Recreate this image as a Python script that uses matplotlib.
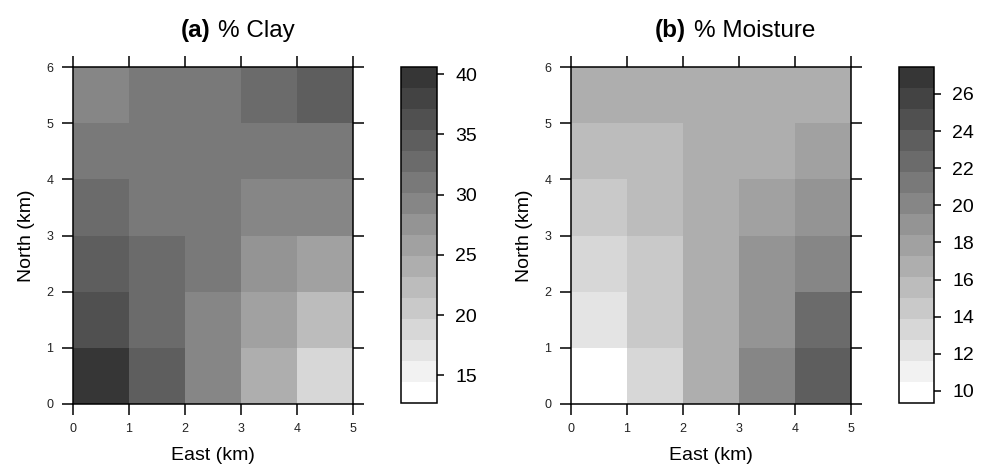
import numpy as np
import matplotlib
matplotlib.use('Agg')
import matplotlib.pyplot as plt
from matplotlib.colors import ListedColormap, BoundaryNorm

plt.rcParams['font.family'] = ['Liberation Sans', 'DejaVu Sans']

# grid cells, rows from South (y 0-1) to North (y 5-6), columns West to East
east = [0, 1, 2, 3, 4, 5]
north = [0, 1, 2, 3, 4, 5, 6]

clay = [
    [39.7, 34.5, 29.2, 24.0, 18.8],
    [36.2, 32.7, 29.2, 25.8, 22.3],
    [34.5, 32.7, 31.0, 27.5, 25.8],
    [32.7, 31.0, 31.0, 29.2, 29.2],
    [31.0, 31.0, 31.0, 31.0, 31.0],
    [29.2, 31.0, 31.0, 32.7, 34.5],
]
moisture = [
    [9.9, 13.3, 16.7, 20.1, 23.5],
    [12.2, 14.4, 16.7, 19.0, 22.4],
    [13.3, 14.4, 16.7, 19.0, 20.1],
    [14.4, 15.6, 16.7, 17.8, 19.0],
    [15.6, 15.6, 16.7, 16.7, 17.8],
    [16.7, 16.7, 16.7, 16.7, 16.7],
]

clay_range = (12.7, 40.6)
moist_range = (9.35, 27.45)
clay_ticks = [15, 20, 25, 30, 35, 40]
moist_ticks = [10, 12, 14, 16, 18, 20, 22, 24, 26]

nlev = 16
greys = ListedColormap([(g, g, g) for g in np.linspace(1.0, 0.21, nlev)])

W, H = 986, 465
fig = plt.figure(figsize=(W / 100, H / 100), dpi=100)


def px(x0, y0, x1, y1):
    # pixel box -> figure fraction rect
    return [x0 / W, 1 - y1 / H, (x1 - x0) / W, (y1 - y0) / H]


def panel(ax_box, cb_box, data, rng, ticks, tag, name, tx):
    ax = fig.add_axes(px(*ax_box))
    cax = fig.add_axes(px(*cb_box))
    edges = np.linspace(rng[0], rng[1], nlev + 1)
    norm = BoundaryNorm(edges, nlev)
    m = ax.pcolormesh(east, north, np.array(data), cmap=greys, norm=norm)
    ax.set_xlim(0, 5)
    ax.set_ylim(0, 6)
    ax.set_xticks(east)
    ax.set_yticks(north)
    ax.tick_params(direction='out', top=True, right=True, length=8, width=1.1,
                   labelsize=9, pad=6, labelcolor='#222222')
    for s in ax.spines.values():
        s.set_linewidth(1.1)
    ax.set_xlabel('East (km)', fontsize=14, labelpad=8)
    ax.set_ylabel('North (km)', fontsize=14, labelpad=8)

    cb = fig.colorbar(m, cax=cax, ticks=ticks)
    cb.outline.set_linewidth(1.1)
    cax.tick_params(direction='out', length=5, width=1.1, labelsize=14, pad=8)
    cax.minorticks_off()

    fig.text(tx / W, 1 - 37 / H, tag, fontsize=17.5, fontweight='bold',
             ha='right', va='baseline')
    fig.text((tx + 8) / W, 1 - 37 / H, name, fontsize=17.5,
             ha='left', va='baseline')


panel((73, 67, 353, 404), (401, 67, 437, 403), clay, clay_range, clay_ticks,
      '(a)', '% Clay', 210)
panel((571, 67, 851, 404), (899, 67, 934, 403), moisture, moist_range,
      moist_ticks, '(b)', '% Moisture', 686)

plt.savefig('out.png', dpi=100)
